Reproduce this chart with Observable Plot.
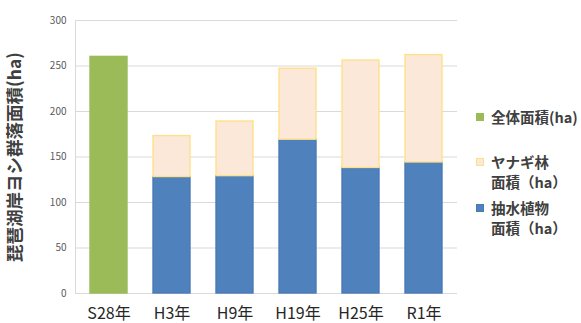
<!DOCTYPE html>
<html lang="ja">
<head>
<meta charset="utf-8">
<script src="https://cdn.jsdelivr.net/npm/d3@7"></script>
<script src="https://cdn.jsdelivr.net/npm/@observablehq/plot@0.6"></script>
<style>
  html, body { margin: 0; padding: 0; background: #fff; }
  #wrap { position: relative; width: 581px; height: 323px; overflow: hidden; font-family: "Noto Sans CJK JP", "Noto Sans", sans-serif; }
  #legend { position: absolute; left: 476px; top: 0; color: #404040; font-size: 14.5px; font-weight: 600; }
  .item { position: absolute; left: 0; white-space: nowrap; line-height: 20px; }
  .sw { position: absolute; left: 0; top: 6px; width: 8px; height: 8px; box-sizing: border-box; }
  .lab { position: absolute; left: 15px; top: 0; }
</style>
</head>
<body>
<div id="wrap"></div>
<script>
// Survey years and areas (ha) of reed communities along the Lake Biwa shore
const years = ["S28年", "H3年", "H9年", "H19年", "H25年", "R1年"];
const totalArea = [260, null, null, null, null, null];
const emergentArea = [null, 128, 129, 169, 138, 144];
const willowArea = [null, 45, 60, 78, 118, 118];
const yTicks = [0, 50, 100, 150, 200, 250, 300];

const seriesNames = ["全体面積(ha)", "抽水植物面積（ha）", "ヤナギ林面積（ha）"];
const fills = { "全体面積(ha)": "#9bbb59", "抽水植物面積（ha）": "#4f81bd", "ヤナギ林面積（ha）": "#fce8d9" };
const strokes = { "全体面積(ha)": "#9bbb59", "抽水植物面積（ha）": "#4a7bb7", "ヤナギ林面積（ha）": "#ffe08a" };

// long table; emergent listed before willow so it stacks at the bottom
const rows = [];
years.forEach((year, i) => {
  if (totalArea[i] != null) rows.push({ year, series: seriesNames[0], value: totalArea[i] });
  if (emergentArea[i] != null) rows.push({ year, series: seriesNames[1], value: emergentArea[i] });
  if (willowArea[i] != null) rows.push({ year, series: seriesNames[2], value: willowArea[i] });
});

const chart = Plot.plot({
  width: 581,
  height: 323,
  marginLeft: 75,
  marginRight: 124,
  marginTop: 20,
  marginBottom: 30,
  style: { fontFamily: "'Noto Sans CJK JP', 'Noto Sans', sans-serif", background: "#fff" },
  x: { domain: years, paddingInner: 0.42, paddingOuter: 0.21, label: null },
  y: { domain: [0, 300], label: null },
  marks: [
    Plot.gridY(yTicks, { stroke: "#d9d9d9", strokeOpacity: 1 }),
    Plot.frame({ anchor: "left", stroke: "#d9d9d9" }),
    Plot.barY(rows, Plot.stackY({
      x: "year",
      y: "value",
      fill: d => fills[d.series],
      stroke: d => strokes[d.series],
      strokeWidth: 1.4
    })),
    Plot.axisY({ ticks: yTicks, tickSize: 0, tickPadding: 9, fontSize: 10, fill: "#595959", label: null }),
    Plot.axisX({ tickSize: 0, tickPadding: 14, fontSize: 16, fill: "#262626", label: null }),
    Plot.text(["琵琶湖岸ヨシ群落面積(ha)"], {
      frameAnchor: "left", textAnchor: "middle", dx: -60, rotate: -90,
      fontSize: 17.5, fontWeight: 600, fill: "#404040"
    })
  ]
});

const wrap = document.getElementById("wrap");
wrap.appendChild(chart);

// legend to the right of the plot
const legendItems = [
  { key: seriesNames[0], lines: ["全体面積(ha)"], top: 107 },
  { key: seriesNames[2], lines: ["ヤナギ林", "面積（ha）"], top: 152 },
  { key: seriesNames[1], lines: ["抽水植物", "面積（ha）"], top: 198 }
];
const legend = document.createElement("div");
legend.id = "legend";
legendItems.forEach(it => {
  const item = document.createElement("div");
  item.className = "item";
  item.style.top = it.top + "px";
  const sw = document.createElement("div");
  sw.className = "sw";
  sw.style.background = fills[it.key];
  sw.style.border = "1px solid " + strokes[it.key];
  const lab = document.createElement("div");
  lab.className = "lab";
  lab.innerHTML = it.lines.join("<br>");
  item.appendChild(sw);
  item.appendChild(lab);
  legend.appendChild(item);
});
wrap.appendChild(legend);
</script>
</body>
</html>
